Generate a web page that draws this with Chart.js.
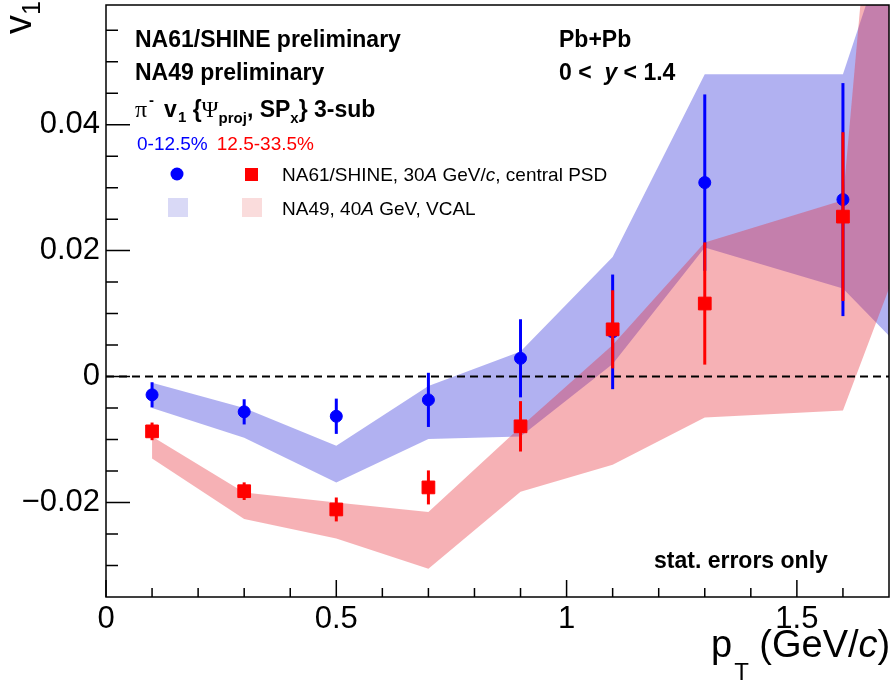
<!DOCTYPE html>
<html>
<head>
<meta charset="utf-8">
<script src="https://cdn.jsdelivr.net/npm/chart.js@4.4.1/dist/chart.umd.min.js"></script>
<style>
  html, body { margin: 0; padding: 0; background: #fff; }
  #wrap { width: 894px; height: 681px; }
</style>
</head>
<body>
<div id="wrap"><canvas id="v1Chart" width="894" height="681"></canvas></div>
<script>
// NA61/SHINE points (pT bin centres)
const ptBins = [0.1, 0.3, 0.5, 0.7, 0.9, 1.1, 1.3, 1.6];
// 0-12.5% centrality
const v1Central = [-0.0029, -0.0056, -0.0063, -0.0037, 0.0029, 0.0071, 0.0308, 0.0281];
const errCentral = [0.0020, 0.0020, 0.0028, 0.0043, 0.0062, 0.0091, 0.0140, 0.0185];
// 12.5-33.5% centrality
const v1Mid = [-0.0087, -0.0182, -0.0211, -0.0176, -0.0079, 0.0075, 0.0116, 0.0254];
const errMid = [0.0014, 0.0014, 0.0019, 0.0027, 0.0040, 0.0062, 0.0097, 0.0134];

// NA49 bands (upper / lower edges)
const bandPt = [0.1, 0.3, 0.5, 0.7, 0.9, 1.1, 1.3, 1.6, 1.7];
const na49CentralHi = [-0.0010, -0.0050, -0.0110, -0.0015, 0.0040, 0.0190, 0.0480, 0.0480, 0.0700];
const na49CentralLo = [-0.0050, -0.0097, -0.0168, -0.0099, -0.0095, 0.0020, 0.0205, 0.0140, 0.0065];
const na49MidHi = [-0.0095, -0.0184, -0.0200, -0.0215, -0.0080, 0.0050, 0.0213, 0.0280, 0.1100];
const na49MidLo = [-0.0130, -0.0226, -0.0257, -0.0305, -0.0183, -0.0140, -0.0065, -0.0054, 0.0140];

// axes
const xRange = [0, 1.7];
const yRange = [-0.035, 0.059];
const xMajorTicks = [0, 0.5, 1, 1.5];
const xTickLabels = ['0', '0.5', '1', '1.5'];
const xMinorTicks = [0.1, 0.2, 0.3, 0.4, 0.6, 0.7, 0.8, 0.9, 1.1, 1.2, 1.3, 1.4, 1.6];
const yMajorTicks = [-0.02, 0, 0.02, 0.04];
const yTickLabels = ['\u22120.02', '0', '0.02', '0.04'];
const yMinorTicks = [-0.03, -0.025, -0.015, -0.01, -0.005, 0.005, 0.01, 0.015, 0.025, 0.03, 0.035, 0.045, 0.05, 0.055];

const BLUE = '#0000ff';
const RED = '#ff0000';
const SANS = '"Liberation Sans", Arial, sans-serif';
const SERIF = '"Liberation Serif", "Times New Roman", serif';

function pts(xs, ys) {
    return xs.map((x, i) => ({ x: x, y: ys[i] }));
}

function drawRich(ctx, x, y, parts) {
    parts.forEach(p => {
        ctx.font = p.font;
        ctx.fillStyle = p.color || '#000';
        x += p.dx || 0;
        ctx.fillText(p.t, x, y + (p.dy || 0));
        x += ctx.measureText(p.t).width;
    });
    return x;
}

// no extra room for tick labels, the frame is fixed
function fixBox(s, size) {
    if (s.isHorizontal()) s.height = size; else s.width = size;
    s.paddingTop = 0; s.paddingBottom = 0; s.paddingLeft = 0; s.paddingRight = 0;
}

// error bars, drawn just before the markers of the same dataset
const errorBars = {
    id: 'errorBars',
    beforeDatasetDraw(chart, args) {
        const ds = chart.data.datasets[args.index];
        if (!ds.errors) return;
        const ctx = chart.ctx;
        const xs = chart.scales.x, ys = chart.scales.y;
        ctx.save();
        ctx.strokeStyle = ds.borderColor;
        ctx.lineWidth = 3;
        ds.data.forEach((p, i) => {
            const px = xs.getPixelForValue(p.x);
            ctx.beginPath();
            ctx.moveTo(px, ys.getPixelForValue(p.y - ds.errors[i]));
            ctx.lineTo(px, ys.getPixelForValue(p.y + ds.errors[i]));
            ctx.stroke();
        });
        ctx.restore();
    }
};

// frame, inner ticks, axis titles and labels
const decorations = {
    id: 'decorations',
    afterDraw(chart) {
        const ctx = chart.ctx;
        const a = chart.chartArea;
        const xs = chart.scales.x, ys = chart.scales.y;
        ctx.save();
        ctx.strokeStyle = '#000';
        ctx.lineWidth = 1.5;
        ctx.strokeRect(a.left, a.top, a.right - a.left, a.bottom - a.top);

        ctx.beginPath();
        yMajorTicks.forEach(v => { const py = ys.getPixelForValue(v); ctx.moveTo(a.left, py); ctx.lineTo(a.left + 24, py); });
        yMinorTicks.forEach(v => { const py = ys.getPixelForValue(v); ctx.moveTo(a.left, py); ctx.lineTo(a.left + 12, py); });
        xMajorTicks.forEach(v => { const px = xs.getPixelForValue(v); ctx.moveTo(px, a.bottom); ctx.lineTo(px, a.bottom - 17); });
        xMinorTicks.forEach(v => { const px = xs.getPixelForValue(v); ctx.moveTo(px, a.bottom); ctx.lineTo(px, a.bottom - 9); });
        ctx.stroke();

        ctx.textBaseline = 'alphabetic';
        ctx.textAlign = 'left';

        // axis titles
        ctx.save();
        ctx.translate(31, 34);
        ctx.rotate(-Math.PI / 2);
        drawRich(ctx, 0, 0, [
            { t: 'v', font: '38px ' + SANS },
            { t: '1', font: '25px ' + SANS, dy: 9 }
        ]);
        ctx.restore();
        drawRich(ctx, 711, 657, [
            { t: 'p', font: '38px ' + SANS },
            { t: 'T', font: '24px ' + SANS, dy: 23, dx: 2 },
            { t: ' (GeV/', font: '38px ' + SANS },
            { t: 'c', font: 'italic 38px ' + SANS },
            { t: ')', font: '38px ' + SANS }
        ]);

        // labels
        const B = 'bold 23px ' + SANS;
        const Bs = 'bold 15px ' + SANS;
        drawRich(ctx, 135, 47, [{ t: 'NA61/SHINE preliminary', font: B }]);
        drawRich(ctx, 135, 80, [{ t: 'NA49 preliminary', font: B }]);
        drawRich(ctx, 135, 117, [
            { t: '\u03c0', font: '24px ' + SERIF },
            { t: '-', font: Bs, dy: -12, dx: 2 },
            { t: 'v', font: B, dx: 10 },
            { t: '1', font: Bs, dy: 5, dx: 1 },
            { t: ' {', font: B },
            { t: '\u03a8', font: '23px ' + SERIF },
            { t: 'proj', font: Bs, dy: 6 },
            { t: ', SP', font: B },
            { t: 'x', font: Bs, dy: 6 },
            { t: '} 3-sub', font: B }
        ]);
        drawRich(ctx, 137, 150, [
            { t: '0-12.5%', font: '19px ' + SANS, color: BLUE },
            { t: '12.5-33.5%', font: '19px ' + SANS, color: RED, dx: 9 }
        ]);
        drawRich(ctx, 559, 47, [{ t: 'Pb+Pb', font: B }]);
        drawRich(ctx, 559, 80, [
            { t: '0 <  ', font: B },
            { t: 'y', font: 'bold italic 23px ' + SANS },
            { t: ' < 1.4', font: B }
        ]);
        drawRich(ctx, 654, 568, [{ t: 'stat. errors only', font: B }]);

        // legend
        ctx.fillStyle = BLUE;
        ctx.beginPath();
        ctx.arc(177, 174, 6.5, 0, Math.PI * 2);
        ctx.fill();
        ctx.fillStyle = RED;
        ctx.fillRect(245, 168, 13, 13);
        ctx.fillStyle = '#d9d9f6';
        ctx.fillRect(168, 198, 20, 19);
        ctx.fillStyle = '#fadcdc';
        ctx.fillRect(242, 198, 20, 19);
        drawRich(ctx, 282, 181, [
            { t: 'NA61/SHINE, 30', font: '19px ' + SANS },
            { t: 'A', font: 'italic 19px ' + SANS },
            { t: ' GeV/', font: '19px ' + SANS },
            { t: 'c', font: 'italic 19px ' + SANS },
            { t: ', central PSD', font: '19px ' + SANS }
        ]);
        drawRich(ctx, 282, 215, [
            { t: 'NA49, 40', font: '19px ' + SANS },
            { t: 'A', font: 'italic 19px ' + SANS },
            { t: ' GeV, VCAL', font: '19px ' + SANS }
        ]);
        ctx.restore();
    }
};

const ctx = document.getElementById('v1Chart').getContext('2d');
const v1Chart = new Chart(ctx, {
    type: 'scatter',
    data: {
        datasets: [
            { label: 'NA49 0-12.5% hi', type: 'line', data: pts(bandPt, na49CentralHi), fill: '+1',
              backgroundColor: 'rgba(60, 60, 220, 0.40)', borderWidth: 0, pointRadius: 0, order: 6 },
            { label: 'NA49 0-12.5% lo', type: 'line', data: pts(bandPt, na49CentralLo), fill: false,
              borderWidth: 0, pointRadius: 0, order: 5 },
            { label: 'NA49 12.5-33.5% hi', type: 'line', data: pts(bandPt, na49MidHi), fill: '+1',
              backgroundColor: 'rgba(230, 40, 50, 0.36)', borderWidth: 0, pointRadius: 0, order: 4 },
            { label: 'NA49 12.5-33.5% lo', type: 'line', data: pts(bandPt, na49MidLo), fill: false,
              borderWidth: 0, pointRadius: 0, order: 3 },
            { label: 'zero', type: 'line', data: pts(xRange, [0, 0]), borderColor: '#000', borderWidth: 2,
              borderDash: [8, 5], pointRadius: 0, fill: false, order: 2 },
            { label: 'NA61 0-12.5%', data: pts(ptBins, v1Central), errors: errCentral,
              borderColor: BLUE, backgroundColor: BLUE, pointStyle: 'circle', pointRadius: 6, borderWidth: 1, order: 1 },
            { label: 'NA61 12.5-33.5%', data: pts(ptBins, v1Mid), errors: errMid,
              borderColor: RED, backgroundColor: RED, pointStyle: 'rect', pointRadius: 9, borderWidth: 1, order: 0 }
        ]
    },
    options: {
        responsive: false,
        animation: false,
        events: [],
        layout: { autoPadding: false, padding: { left: 0, right: 5, top: 5, bottom: 0 } },
        plugins: { legend: { display: false }, tooltip: { enabled: false } },
        scales: {
            x: {
                type: 'linear', min: xRange[0], max: xRange[1],
                grid: { display: false, drawTicks: false }, border: { display: false },
                afterBuildTicks: s => { s.ticks = xMajorTicks.map(v => ({ value: v })); },
                afterFit: s => fixBox(s, 84),
                ticks: {
                    padding: 4, color: '#000', font: { family: SANS, size: 31 },
                    callback: v => xTickLabels[xMajorTicks.indexOf(v)]
                }
            },
            y: {
                type: 'linear', min: yRange[0], max: yRange[1],
                grid: { display: false, drawTicks: false }, border: { display: false },
                afterBuildTicks: s => { s.ticks = yMajorTicks.map(v => ({ value: v })); },
                afterFit: s => fixBox(s, 106),
                ticks: {
                    padding: 6, color: '#000', font: { family: SANS, size: 31 },
                    callback: v => yTickLabels[yMajorTicks.indexOf(v)]
                }
            }
        }
    },
    plugins: [errorBars, decorations]
});
</script>
</body>
</html>
